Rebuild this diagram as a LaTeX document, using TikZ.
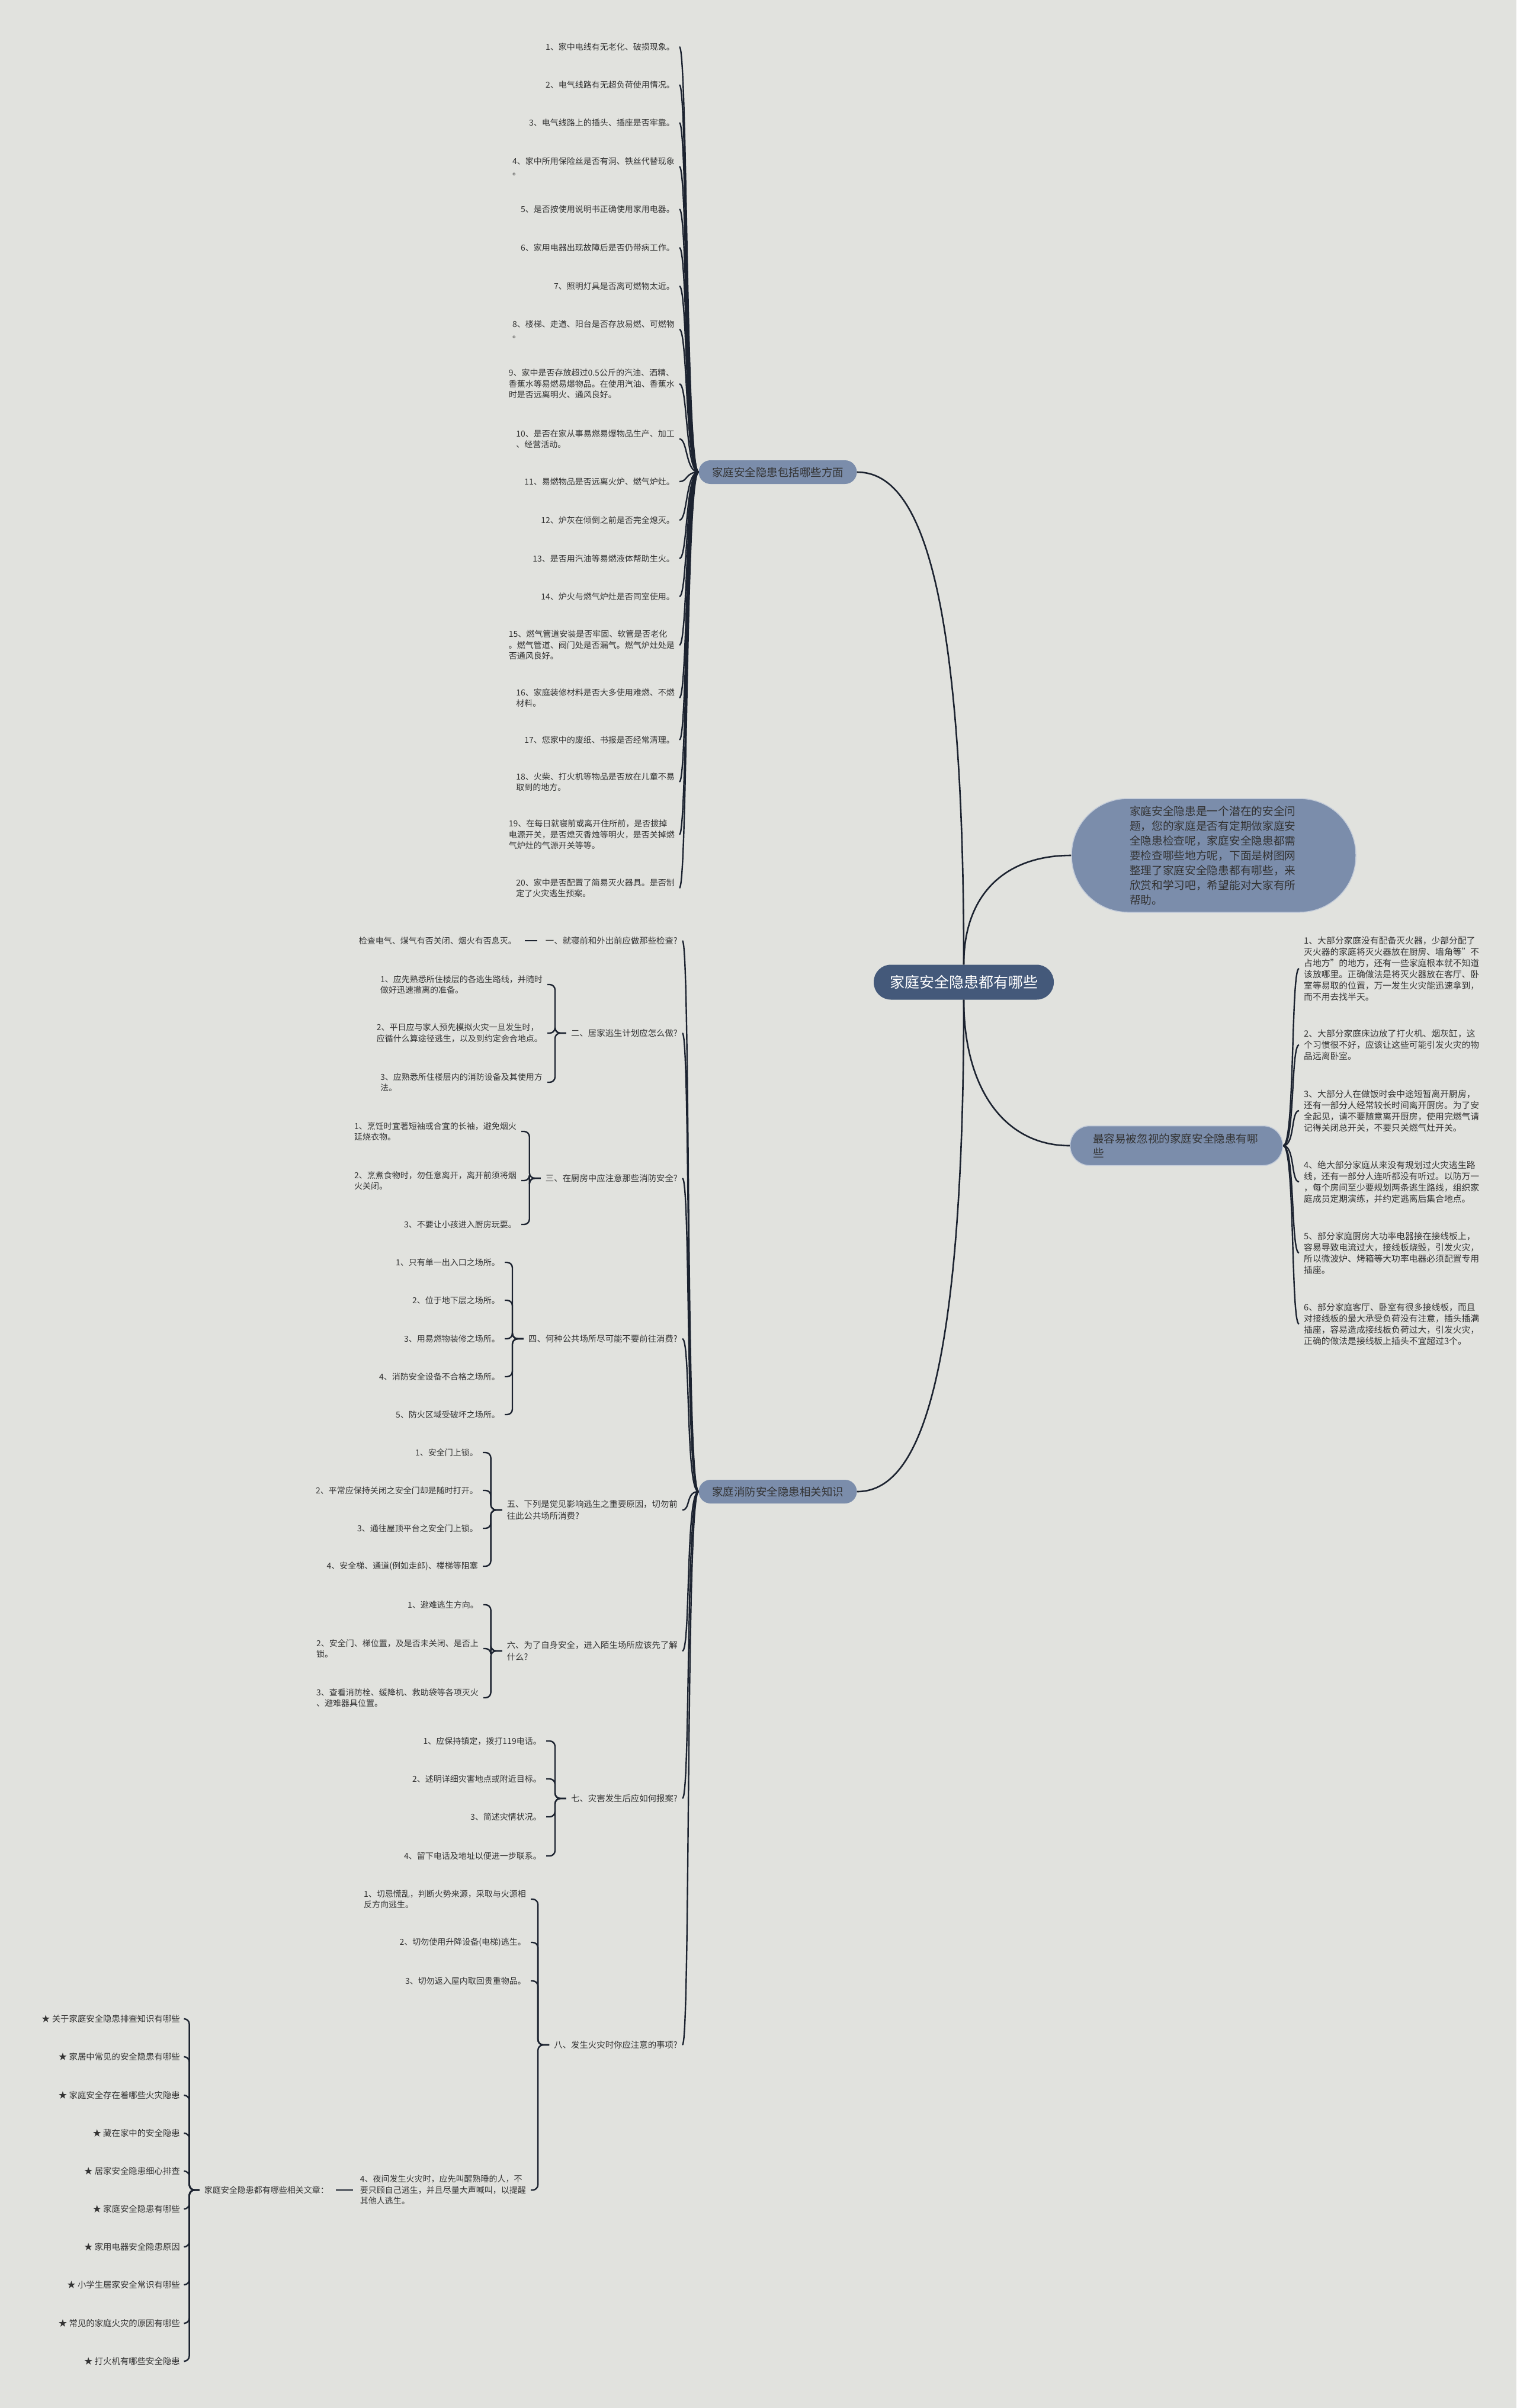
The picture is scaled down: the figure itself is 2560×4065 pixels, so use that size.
\documentclass[tikz,border=0pt]{standalone}
\usepackage{fontspec}
\setmainfont{Noto Sans CJK SC}
\definecolor{bgcol}{HTML}{E1E2DE}
\definecolor{rootcol}{HTML}{44597A}
\definecolor{boxcol}{HTML}{7B8DAB}
\definecolor{linecol}{HTML}{1C2330}
\definecolor{txtcol}{HTML}{333333}

\begin{document}
\begin{tikzpicture}[x=1pt, y=-1pt,
  itm/.style={text=txtcol, align=left, inner xsep=8pt, inner ysep=2pt, font=\fontsize{14}{18.5}\selectfont},
  ritm/.style={itm, font=\fontsize{14.8}{19}\selectfont},
  qst/.style={itm, font=\fontsize{14.4}{19.5}\selectfont},
  topic/.style={fill=boxcol, text=txtcol, rounded corners=20pt, minimum width=267pt, minimum height=40pt, inner sep=0pt, font=\fontsize{18.5}{22}\selectfont},
  curv/.style={draw=linecol, line width=2.4pt},
  brk/.style={draw=linecol, line width=2.4pt, rounded corners=9pt},
  main/.style={draw=linecol, line width=2.6pt}]
  \useasboundingbox (0,0) rectangle (2560,4065);
  \fill[bgcol] (0,0) rectangle (2560,4065);

  % centre and first level
  \node[fill=rootcol, text=white, rounded corners=29pt, minimum width=304pt, minimum height=59pt, inner sep=0pt,
    font=\fontsize{25}{30}\selectfont] (root) at (1627,1658) {家庭安全隐患都有哪些};
  \node[fill=boxcol, draw=white!55!boxcol, line width=1.5pt, rounded corners=95pt, minimum width=480pt, minimum height=192pt,
    text width=284pt, align=left, text=txtcol, font=\fontsize{18.7}{25}\selectfont] (desc) at (2049,1444)
    {家庭安全隐患是一个潜在的安全问\\题，您的家庭是否有定期做家庭安\\全隐患检查呢，家庭安全隐患都需\\要检查哪些地方呢，下面是树图网\\整理了家庭安全隐患都有哪些，来\\欣赏和学习吧，希望能对大家有所\\帮助。};
  \node[fill=boxcol, draw=white!55!boxcol, line width=1.5pt, rounded corners=33pt, minimum width=359pt, minimum height=67pt,
    text width=282pt, align=left, text=txtcol, font=\fontsize{18.6}{24}\selectfont] (rn) at (1986,1934)
    {最容易被忽视的家庭安全隐患有哪\\些};
  \node[topic] (b1) at (1313,797) {家庭安全隐患包括哪些方面};
  \node[topic] (b2) at (1313,2518) {家庭消防安全隐患相关知识};

  \draw[main] (root.north) .. controls +(0,-700) and +(90,0) .. (b1.east);
  \draw[main] (root.north) .. controls +(0,-120) and +(-110,0) .. (desc.west);
  \draw[main] (root.south) .. controls +(0,700) and +(90,0) .. (b2.east);
  \draw[main] (root.south) .. controls +(0,150) and +(-110,0) .. (rn.west);

  % checklist
  \foreach \i/\y/\txt in {
    1/79/{1、家中电线有无老化、破损现象。},
    2/143/{2、电气线路有无超负荷使用情况。},
    3/207/{3、电气线路上的插头、插座是否牢靠。},
    4/281/{4、家中所用保险丝是否有洞、铁丝代替现象\\。},
    5/353/{5、是否按使用说明书正确使用家用电器。},
    6/418/{6、家用电器出现故障后是否仍带病工作。},
    7/483/{7、照明灯具是否离可燃物太近。},
    8/556/{8、楼梯、走道、阳台是否存放易燃、可燃物\\。},
    9/648/{9、家中是否存放超过0.5公斤的汽油、酒精、\\香蕉水等易燃易爆物品。在使用汽油、香蕉水\\时是否远离明火、通风良好。},
    10/741/{10、是否在家从事易燃易爆物品生产、加工\\、经营活动。},
    11/813/{11、易燃物品是否远离火炉、燃气炉灶。},
    12/878/{12、炉灰在倾倒之前是否完全熄灭。},
    13/943/{13、是否用汽油等易燃液体帮助生火。},
    14/1007/{14、炉火与燃气炉灶是否同室使用。},
    15/1089/{15、燃气管道安装是否牢固、软管是否老化\\。燃气管道、阀门处是否漏气。燃气炉灶处是\\否通风良好。},
    16/1178/{16、家庭装修材料是否大多使用难燃、不燃\\材料。},
    17/1249/{17、您家中的废纸、书报是否经常清理。},
    18/1320/{18、火柴、打火机等物品是否放在儿童不易\\取到的地方。},
    19/1409/{19、在每日就寝前或离开住所前，是否拔掉\\电源开关，是否熄灭香烛等明火，是否关掉燃\\气炉灶的气源开关等等。},
    20/1499/{20、家中是否配置了简易灭火器具。是否制\\定了火灾逃生预案。}}{
    \node[itm, anchor=east] (a\i) at (1147,\y) {\txt};
    \draw[curv] (b1.west) .. controls +(-22,0) and +(14,0) .. (a\i.east);
  }

  % right list
  \foreach \i/\y/\txt in {
    1/1635/{1、大部分家庭没有配备灭火器，少部分配了\\灭火器的家庭将灭火器放在厨房、墙角等"不\\占地方"的地方，还有一些家庭根本就不知道\\该放哪里。正确做法是将灭火器放在客厅、卧\\室等易取的位置，万一发生火灾能迅速拿到，\\而不用去找半天。},
    2/1764/{2、大部分家庭床边放了打火机、烟灰缸，这\\个习惯很不好，应该让这些可能引发火灾的物\\品远离卧室。},
    3/1875/{3、大部分人在做饭时会中途短暂离开厨房，\\还有一部分人经常较长时间离开厨房。为了安\\全起见，请不要随意离开厨房，使用完燃气请\\记得关闭总开关，不要只关燃气灶开关。},
    4/1995/{4、绝大部分家庭从来没有规划过火灾逃生路\\线，还有一部分人连听都没有听过。以防万一\\，每个房间至少要规划两条逃生路线，组织家\\庭成员定期演练，并约定逃离后集合地点。},
    5/2115/{5、部分家庭厨房大功率电器接在接线板上，\\容易导致电流过大，接线板烧毁，引发火灾，\\所以微波炉、烤箱等大功率电器必须配置专用\\插座。},
    6/2235/{6、部分家庭客厅、卧室有很多接线板，而且\\对接线板的最大承受负荷没有注意，插头插满\\插座，容易造成接线板负荷过大，引发火灾，\\正确的做法是接线板上插头不宜超过3个。}}{
    \node[ritm, anchor=west] (r\i) at (2193,\y) {\txt};
    \draw[curv] (rn.east) .. controls +(20,0) and +(-14,0) .. (r\i.west);
  }

  % fire safety questions
  \foreach \i/\y/\txt in {
    1/1588/{一、就寝前和外出前应做那些检查?},
    2/1744/{二、居家逃生计划应怎么做?},
    3/1989/{三、在厨房中应注意那些消防安全?},
    4/2260/{四、何种公共场所尽可能不要前往消费?},
    5/2549/{五、下列是觉见影响逃生之重要原因，切勿前\\往此公共场所消费?},
    6/2787/{六、为了自身安全，进入陌生场所应该先了解\\什么?},
    7/3036/{七、灾害发生后应如何报案?},
    8/3452/{八、发生火灾时你应注意的事项?}}{
    \node[qst, anchor=east] (q\i) at (1152,\y) {\txt};
    \draw[curv] (b2.west) .. controls +(-22,0) and +(14,0) .. (q\i.east);
  }

  \node[itm, anchor=east] (q1c1) at (880,1588) {检查电气、煤气有否关闭、烟火有否息灭。};
  \draw[curv, shorten <=6pt, shorten >=6pt] (q1.west) -- (q1c1.east);

  \foreach \i/\y/\txt in {
    1/1662/{1、应先熟悉所住楼层的各逃生路线，并随时\\做好迅速撤离的准备。},
    2/1744/{2、平日应与家人预先模拟火灾一旦发生时，\\应循什么算途径逃生，以及到约定会合地点。},
    3/1827/{3、应熟悉所住楼层内的消防设备及其使用方\\法。}}{
    \node[itm, anchor=east] (q2c\i) at (924,\y) {\txt};
    \draw[brk] (q2.west) -- ++(-19,0) |- (q2c\i.east);
  }

  \foreach \i/\y/\txt in {
    1/1910/{1、烹饪时宜著短袖或合宜的长袖，避免烟火\\延烧衣物。},
    2/1993/{2、烹煮食物时，勿任意离开，离开前须将烟\\火关闭。},
    3/2067/{3、不要让小孩进入厨房玩耍。}}{
    \node[itm, anchor=east] (q3c\i) at (880,\y) {\txt};
    \draw[brk] (q3.west) -- ++(-19,0) |- (q3c\i.east);
  }

  \foreach \i/\y/\txt in {
    1/2131/{1、只有单一出入口之场所。},
    2/2195/{2、位于地下层之场所。},
    3/2260/{3、用易燃物装修之场所。},
    4/2324/{4、消防安全设备不合格之场所。},
    5/2388/{5、防火区域受破坏之场所。}}{
    \node[itm, anchor=east] (q4c\i) at (852,\y) {\txt};
    \draw[brk] (q4.west) -- ++(-19,0) |- (q4c\i.east);
  }

  \foreach \i/\y/\txt in {
    1/2452/{1、安全门上锁。},
    2/2516/{2、平常应保持关闭之安全门却是随时打开。},
    3/2580/{3、通往屋顶平台之安全门上锁。},
    4/2644/{4、安全梯、通道(例如走郎)、楼梯等阻塞}}{
    \node[itm, anchor=east] (q5c\i) at (815,\y) {\txt};
    \draw[brk] (q5.west) -- ++(-19,0) |- (q5c\i.east);
  }

  \foreach \i/\y/\txt in {
    1/2709/{1、避难逃生方向。},
    2/2783/{2、安全门、梯位置，及是否未关闭、是否上\\锁。},
    3/2866/{3、查看消防栓、缓降机、救助袋等各项灭火\\、避难器具位置。}}{
    \node[itm, anchor=east] (q6c\i) at (816,\y) {\txt};
    \draw[brk] (q6.west) -- ++(-19,0) |- (q6c\i.east);
  }

  \foreach \i/\y/\txt in {
    1/2939/{1、应保持镇定，拨打119电话。},
    2/3003/{2、述明详细灾害地点或附近目标。},
    3/3067/{3、简述灾情状况。},
    4/3133/{4、留下电话及地址以便进一步联系。}}{
    \node[itm, anchor=east] (q7c\i) at (922,\y) {\txt};
    \draw[brk] (q7.west) -- ++(-19,0) |- (q7c\i.east);
  }

  \foreach \i/\y/\txt in {
    1/3206/{1、切忌慌乱，判断火势来源，采取与火源相\\反方向逃生。},
    2/3279/{2、切勿使用升降设备(电梯)逃生。},
    3/3344/{3、切勿返入屋内取回贵重物品。},
    4/3697/{4、夜间发生火灾时，应先叫醒熟睡的人，不\\要只顾自己逃生，并且尽量大声喊叫，以提醒\\其他人逃生。}}{
    \node[itm, anchor=east] (q8c\i) at (896,\y) {\txt};
    \draw[brk] (q8.west) -- ++(-19,0) |- (q8c\i.east);
  }

  % related articles
  \node[itm, anchor=east] (rel) at (563,3697) {家庭安全隐患都有哪些相关文章：};
  \draw[curv, shorten <=4pt, shorten >=4pt] (q8c4.west) -- (rel.east);
  \foreach \i/\y/\txt in {
    1/3408/{★ 关于家庭安全隐患排查知识有哪些},
    2/3472/{★ 家居中常见的安全隐患有哪些},
    3/3537/{★ 家庭安全存在着哪些火灾隐患},
    4/3601/{★ 藏在家中的安全隐患},
    5/3665/{★ 居家安全隐患细心排查},
    6/3729/{★ 家庭安全隐患有哪些},
    7/3793/{★ 家用电器安全隐患原因},
    8/3857/{★ 小学生居家安全常识有哪些},
    9/3922/{★ 常见的家庭火灾的原因有哪些},
    10/3986/{★ 打火机有哪些安全隐患}}{
    \node[qst, anchor=east] (s\i) at (312,\y) {\txt};
    \draw[brk] (rel.west) -- ++(-17,0) |- (s\i.east);
  }
\end{tikzpicture}
\end{document}
